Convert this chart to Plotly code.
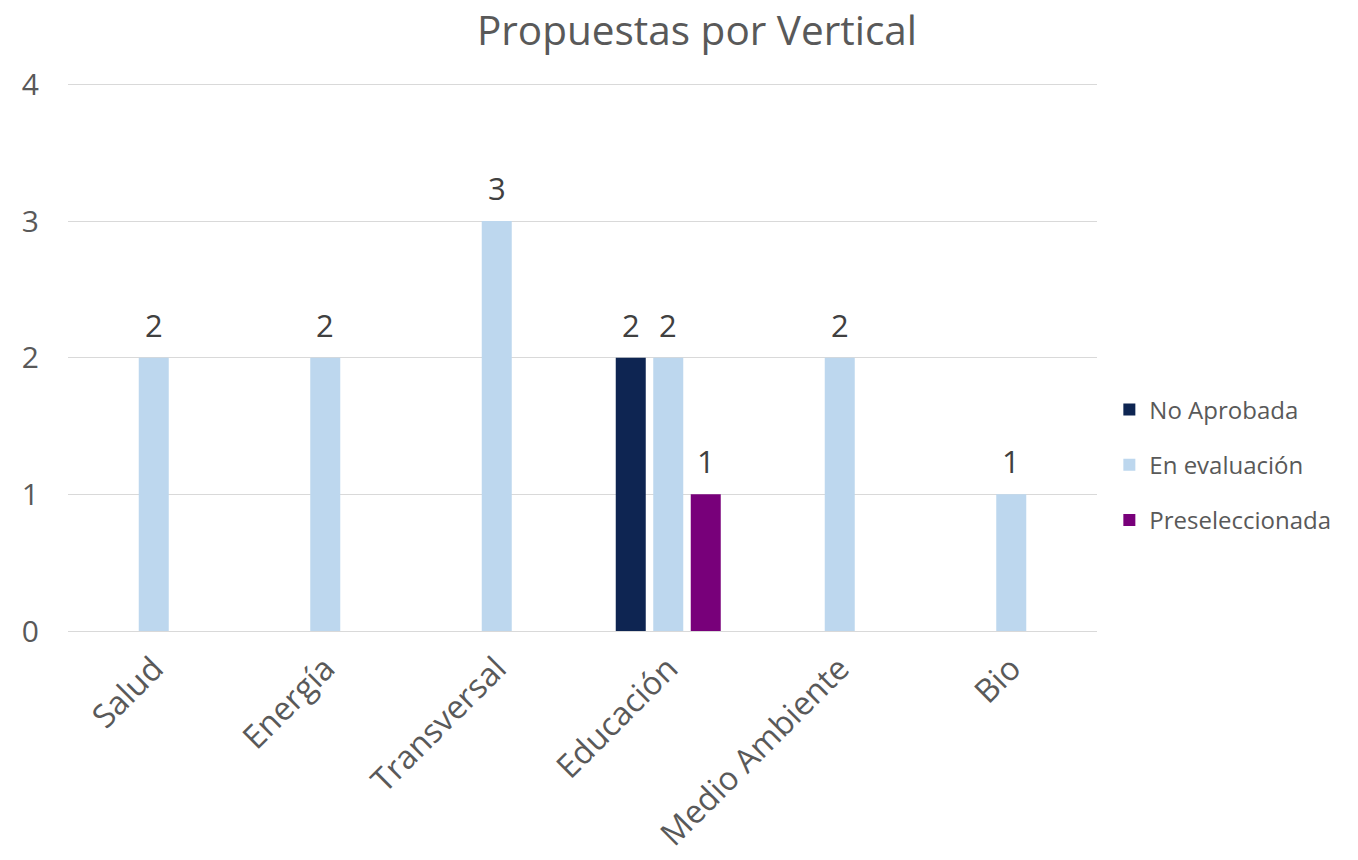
import plotly.graph_objects as go

categories = ["Salud", "Energía", "Transversal", "Educación", "Medio Ambiente", "Bio"]
no_aprobada = [None, None, None, 2, None, None]
en_evaluacion = [2, 2, 3, 2, 2, 1]
preseleccionada = [None, None, None, 1, None, None]

series = [
    ("No Aprobada", no_aprobada, "#0E2552"),
    ("En evaluación", en_evaluacion, "#BDD7EE"),
    ("Preseleccionada", preseleccionada, "#78007A"),
]

FONT = "Open Sans"
TXT = "#595959"
W, H = 1358, 860
ML, MR, MT, MB = 60, 269, 75, 237
BARGAP = 0.344
LABEL_SHIFT = 33

fig = go.Figure()
for i, (name, vals, col) in enumerate(series):
    fig.add_trace(go.Bar(
        x=categories, y=vals, name=name, marker_color=col,
        marker_line_width=0, legendgroup=f"g{i}",
    ))

# data labels placed at the bar values, shifted to each group's slot
plot_w = W - ML - MR
slot = plot_w / len(categories) * (1 - BARGAP) / len(series)
for i, (name, vals, col) in enumerate(series):
    for c, v in zip(categories, vals):
        if v is None:
            continue
        fig.add_annotation(x=c, y=v, text=str(v), showarrow=False,
                           xshift=(i - (len(series) - 1) / 2) * slot,
                           yshift=LABEL_SHIFT, yanchor="middle",
                           font=dict(family=FONT, size=31, color="#404040"))

fig.update_layout(
    width=W, height=H,
    paper_bgcolor="white", plot_bgcolor="white",
    margin=dict(l=ML, r=MR, t=MT, b=MB),
    barmode="group", bargap=BARGAP, bargroupgap=0.2,
    font=dict(family=FONT, color=TXT),
    title=dict(text="Propuestas por Vertical", x=689/W, xanchor="center",
               y=1 - 23/H, yanchor="middle", yref="container",
               font=dict(family=FONT, size=40.5, color=TXT)),
    legend=dict(x=1.012, xanchor="left", y=0.303, yanchor="middle",
                font=dict(family=FONT, size=24, color=TXT),
                tracegroupgap=21, itemwidth=30),
)
fig.update_yaxes(range=[0, 4.01], tickvals=[0, 1, 2, 3, 4], showgrid=True,
                 gridcolor="#D9D9D9", gridwidth=1.3, zeroline=True,
                 zerolinecolor="#D9D9D9", zerolinewidth=1.3, showline=False,
                 tickfont=dict(family=FONT, size=30, color=TXT),
                 ticklabelstandoff=28)
fig.update_xaxes(tickangle=-45, showline=False, showgrid=False,
                 tickfont=dict(family=FONT, size=32.5, color=TXT),
                 ticklabelstandoff=11)

fig.write_html("out.html")
